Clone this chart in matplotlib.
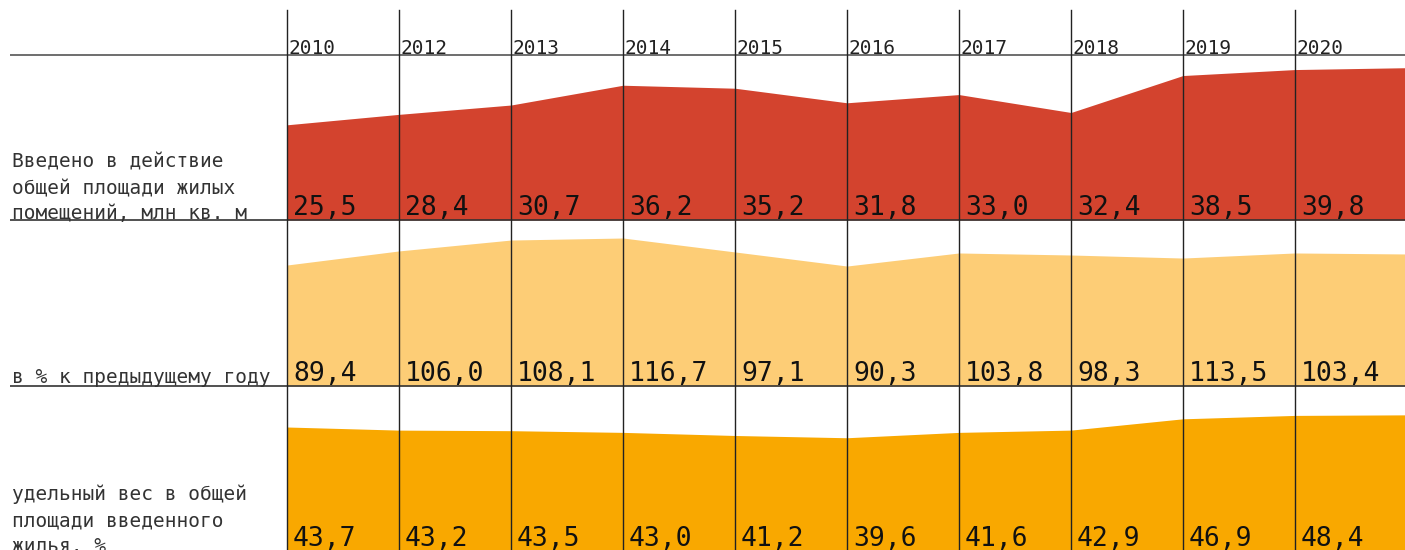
import matplotlib
matplotlib.use("Agg")
import matplotlib.pyplot as plt
from matplotlib import transforms

plt.rcParams['font.family'] = ['DejaVu Sans Mono', 'DejaVu Sans']

years = ["2010", "2012", "2013", "2014", "2015", "2016", "2017", "2018", "2019", "2020"]
labels_built = ["25,5", "28,4", "30,7", "36,2", "35,2", "31,8", "33,0", "32,4", "38,5", "39,8"]
labels_pct = ["89,4", "106,0", "108,1", "116,7", "97,1", "90,3", "103,8", "98,3", "113,5", "103,4"]
labels_share = ["43,7", "43,2", "43,5", "43,0", "41,2", "39,6", "41,6", "42,9", "46,9", "48,4"]

# area outlines (11 vertices, last one at the right edge)
area_built = [25.5, 28.3, 30.8, 36.1, 35.3, 31.4, 33.6, 28.8, 38.7, 40.3, 40.8]
area_pct = [95.4, 106.5, 115.1, 116.7, 105.7, 94.6, 104.9, 103.3, 100.9, 104.9, 104.1]
area_share = [44.2, 43.1, 42.9, 42.3, 41.2, 40.4, 42.3, 43.1, 47.1, 48.3, 48.5]

row_titles = [
    ["Введено в действие", "общей площади жилых", "помещений, млн кв. м"],
    ["в % к предыдущему году"],
    ["удельный вес в общей", "площади введенного", "жилья, %"],
]

colors = ["#D3432E", "#FDCD76", "#F9A800"]

W, H = 1405, 550
fig = plt.figure(figsize=(W / 100, H / 100), dpi=100)
fig.patch.set_facecolor("white")

# rows in pixel space (top, bottom)
rows = [(55, 220), (220, 386), (386, 552)]
ylims = [44.2, 130.9, 58.7]
areas = [area_built, area_pct, area_share]
x_left = 287
n_span = (W - x_left) / 112.0

axes = []
for (top, bot), yl, ar, col in zip(rows, ylims, areas, colors):
    ax = fig.add_axes([x_left / W, (H - bot) / H, (W - x_left) / W, (bot - top) / H])
    xs = list(range(len(ar)))
    ax.fill_between(xs, 0, ar, color=col, linewidth=0)
    ax.set_xlim(0, n_span)
    ax.set_ylim(0, yl)
    ax.axis("off")
    axes.append(ax)

# overlay in pixel coordinates
ov = fig.add_axes([0, 0, 1, 1], zorder=10)
ov.set_xlim(0, W)
ov.set_ylim(H, 0)
ov.axis("off")
ov.patch.set_alpha(0)

blend = transforms.blended_transform_factory(axes[0].transData, ov.transData)

# horizontal rules
ov.plot([10, W], [55, 55], color="#555555", lw=1.2, solid_capstyle="butt")
ov.plot([10, W], [220, 220], color="#333333", lw=1.2, solid_capstyle="butt")
ov.plot([10, W], [386, 386], color="#333333", lw=1.2, solid_capstyle="butt")

# vertical column rules
for i in range(len(years)):
    ov.plot([i, i], [10, H], color="#222222", lw=1.0, transform=blend)

# year labels
for i, y in enumerate(years):
    ov.text(i + 2 / 112, 54, y, transform=blend, fontsize=14, color="#222222",
            ha="left", va="baseline")

# value labels
baselines = [215, 381, 546]
for labs, yb in zip([labels_built, labels_pct, labels_share], baselines):
    for i, t in enumerate(labs):
        ov.text(i + 6 / 112, yb, t, transform=blend, fontsize=19, color="#111111",
                ha="left", va="baseline")

# row titles
title_baselines = [[168, 194, 219], [383], [500, 526, 552]]
for lines, bls in zip(row_titles, title_baselines):
    for t, b in zip(lines, bls):
        ov.text(12, b, t, fontsize=14, color="#333333", ha="left", va="baseline")

fig.savefig("out.png", dpi=100, facecolor="white")
